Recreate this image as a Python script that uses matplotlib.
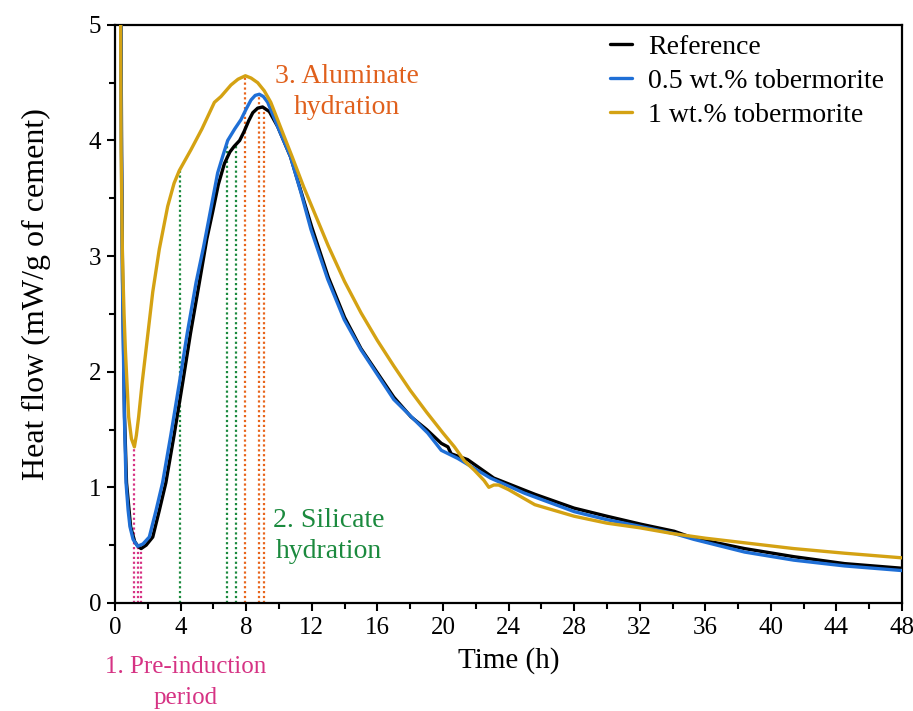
import matplotlib
matplotlib.use("Agg")
import matplotlib.pyplot as plt
import matplotlib.transforms as mtransforms
from matplotlib.ticker import MultipleLocator

plt.rcParams["font.family"] = ["Liberation Serif", "DejaVu Serif"]

# Heat flow curves
ref_t = [0.35, 0.4, 0.46, 0.52, 0.58, 0.7, 0.95, 1.2, 1.4, 1.59, 1.9, 2.3, 2.7, 3.1, 3.6,
         4.12, 4.6, 5.14, 5.6, 5.95, 6.3, 6.67, 7.0, 7.27, 7.6, 7.88, 8.15, 8.4, 8.7,
         9.0, 9.41, 9.92, 10.7, 11.34, 12.0, 13.0, 14.0, 15.0, 17.0, 18.05, 19.0, 19.9,
         20.3, 20.5, 21.5, 23.1, 25.6, 28.0, 30.0, 32.1, 34.1, 35.3, 38.4, 41.4, 44.5,
         48.0]
ref_q = [5.5, 3.9, 2.8, 2.19, 1.61, 1.04, 0.66, 0.53, 0.49, 0.47, 0.5, 0.57, 0.8, 1.04,
         1.45, 1.9, 2.33, 2.77, 3.15, 3.38, 3.62, 3.8, 3.9, 3.95, 4.0, 4.08, 4.17, 4.24,
         4.28, 4.29, 4.25, 4.12, 3.86, 3.56, 3.25, 2.82, 2.47, 2.2, 1.78, 1.61, 1.5, 1.38,
         1.35, 1.29, 1.24, 1.08, 0.94, 0.82, 0.75, 0.68, 0.62, 0.56, 0.47, 0.4, 0.34,
         0.3]

tob05_t = [0.34, 0.39, 0.45, 0.51, 0.57, 0.67, 0.8, 0.91, 1.1, 1.38, 1.7, 2.09, 2.5, 2.9,
           3.4, 3.92, 4.4, 4.94, 5.4, 5.75, 6.26, 6.56, 6.87, 7.3, 7.68, 7.99, 8.29,
           8.55, 8.8, 9.05, 9.31, 9.92, 10.7, 11.34, 11.95, 12.97, 13.98, 15.0, 17.0,
           19.07, 19.9, 20.9, 22.9, 24.96, 28.0, 30.0, 32.1, 34.1, 35.3, 38.4, 41.4,
           44.5, 48.0]
tob05_q = [5.5, 3.9, 2.8, 2.19, 1.61, 1.04, 0.8, 0.66, 0.55, 0.49, 0.51, 0.57, 0.8, 1.04,
           1.45, 1.9, 2.33, 2.77, 3.08, 3.34, 3.72, 3.86, 4.0, 4.1, 4.18, 4.27, 4.35,
           4.39, 4.4, 4.38, 4.33, 4.12, 3.86, 3.55, 3.23, 2.8, 2.45, 2.19, 1.76,
           1.47, 1.32, 1.25, 1.08, 0.95, 0.79, 0.72, 0.66, 0.6, 0.55, 0.44, 0.37,
           0.32, 0.28]

tob1_t = [0.33, 0.37, 0.45, 0.55, 0.63, 0.83, 1.0, 1.18, 1.3, 1.44, 1.65, 1.89, 2.3, 2.7,
          3.21, 3.6, 3.92, 4.63, 5.3, 6.06, 6.46, 7.07, 7.5, 7.95, 8.3, 8.7, 9.1, 9.5,
          10.3, 10.8, 11.5, 12.0, 13.0, 14.0, 15.0, 16.0, 17.0, 18.0, 19.0, 20.0, 20.7,
          21.3, 21.9, 22.5, 22.8, 23.1, 23.4, 24.0, 25.6, 28.0, 30.0, 32.0, 34.0, 36.0,
          38.4, 41.4, 44.5, 48.0]
tob1_q = [5.5, 3.9, 3.0, 2.5, 2.19, 1.61, 1.42, 1.35, 1.45, 1.61, 1.9, 2.19, 2.69, 3.06,
          3.43, 3.63, 3.74, 3.92, 4.1, 4.33, 4.38, 4.48, 4.53, 4.56, 4.54, 4.5, 4.43,
          4.33, 4.04, 3.86, 3.6, 3.43, 3.09, 2.78, 2.51, 2.27, 2.05, 1.84, 1.65, 1.47,
          1.35, 1.23, 1.15, 1.06, 1.0, 1.02, 1.02, 0.98, 0.85, 0.75, 0.69, 0.65, 0.6,
          0.56, 0.52, 0.47, 0.43, 0.39]

# Stage markers: (time, height) for each curve
preinduction = [(1.16, 1.35), (1.38, 0.49), (1.59, 0.47)]
silicate = [(3.96, 3.75), (6.83, 3.98), (7.36, 3.96)]
aluminate = [(7.95, 4.56), (8.78, 4.40), (9.07, 4.29)]

series = [
    ("Reference", ref_t, ref_q, "#000000"),
    ("0.5 wt.% tobermorite", tob05_t, tob05_q, "#1f6fd6"),
    ("1 wt.% tobermorite", tob1_t, tob1_q, "#d4a213"),
]

fig = plt.figure(figsize=(9.13, 7.11), dpi=100)
ax = fig.add_axes([0.126, 0.152, 0.862, 0.813])

marker_specs = (
    (preinduction, "#d63384"),
    (silicate, "#1b8a3e"),
    (aluminate, "#e8651c"),
)
for points, color in marker_specs:
    for t, q in points:
        ax.vlines(t, 0, q, colors=color, linestyles=(0, (1, 1.2)), linewidth=1.6, zorder=1)

for label, t, q, color in series:
    ax.plot(t, q, color=color, linewidth=2.4, label=label, zorder=3,
            solid_joinstyle="round", solid_capstyle="round")

ax.set_xlim(0, 48)
ax.set_ylim(0, 5)
ax.xaxis.set_major_locator(MultipleLocator(4))
ax.xaxis.set_minor_locator(MultipleLocator(2))
ax.yaxis.set_major_locator(MultipleLocator(1))
ax.yaxis.set_minor_locator(MultipleLocator(0.5))
ax.tick_params(which="both", direction="out", top=False, right=False, width=1.5,
               labelsize=18, pad=4)
ax.tick_params(which="major", length=6)
ax.tick_params(which="minor", length=4)
for spine in ax.spines.values():
    spine.set_linewidth(1.6)

ax.set_xlabel("Time (h)", fontsize=21, labelpad=6)
ax.set_ylabel("Heat flow (mW/g of cement)", fontsize=23)
ax.yaxis.set_label_coords(-0.082, 0.535)

ax.legend(loc="upper right", bbox_to_anchor=(0.99, 1.0), frameon=False, fontsize=20,
          handlelength=0.8, handletextpad=0.6, labelspacing=0.3, borderaxespad=0.0,
          borderpad=0.35)

ax.text(14.15, 4.42, "3. Aluminate\nhydration", color="#e0601c", fontsize=20,
        ha="center", va="center", linespacing=1.35)
ax.text(13.05, 0.58, "2. Silicate\nhydration", color="#1b8a3e", fontsize=20,
        ha="center", va="center", linespacing=1.35)
trans = mtransforms.blended_transform_factory(ax.transData, ax.transAxes)
ax.text(4.3, -0.138, "1. Pre-induction\nperiod", color="#d63384", fontsize=18,
        ha="center", va="center", linespacing=1.55, transform=trans, clip_on=False)

fig.savefig("out.png", dpi=100)
